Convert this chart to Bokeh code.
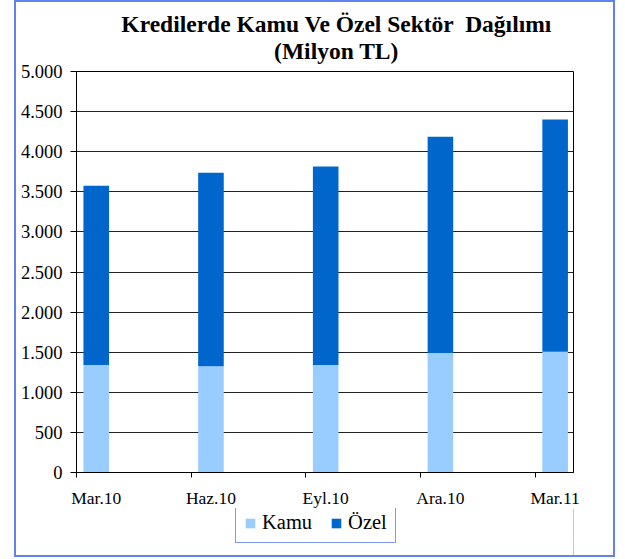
from bokeh.plotting import figure
from bokeh.layouts import column, row
from bokeh.models import (FixedTicker, LinearAxis, Range1d, Legend, LegendItem,
                          Title, ColumnDataSource, Spacer)
from bokeh.embed import file_html
from bokeh.resources import INLINE

categories = ["Mar.10", "Haz.10", "Eyl.10", "Ara.10", "Mar.11"]
kamu = [1340, 1325, 1340, 1490, 1505]
ozel = [2235, 2412, 2477, 2697, 2895]
y_ticks = [0, 500, 1000, 1500, 2000, 2500, 3000, 3500, 4000, 4500, 5000]
y_tick_labels = ["0", "500", "1.000", "1.500", "2.000", "2.500", "3.000",
                 "3.500", "4.000", "4.500", "5.000"]
title_lines = ["Kredilerde Kamu Ve Özel Sektör \u00a0Dağılımı", "(Milyon TL)"]
series_names = ["Kamu", "Özel"]

KAMU_C = "#99CCFF"
OZEL_C = "#0066CC"
BORDER = "2px solid #6282F2"
FONT = "Liberation Serif"
OFF = 0.172

xs = list(range(len(categories)))
src = ColumnDataSource(dict(x=xs, Kamu=kamu, Ozel=ozel))

p = figure(width=601, height=508, output_backend="svg", toolbar_location=None,
           x_range=Range1d(-OFF, len(categories) - 1 + 0.16),
           y_range=Range1d(0, 5000),
           min_border_left=60, min_border_right=44, min_border_top=10,
           min_border_bottom=36,
           styles={"border": BORDER, "border-bottom": "none"})

# centre line 2 under line 1 (block is left-aligned internally)
p.title = Title(text="\u00a0" * 4 + title_lines[0] + "\n" + "\u00a0" * 30 + title_lines[1],
                text_font=FONT, text_font_size="23.5px", text_font_style="bold",
                align="center", text_line_height=1.04, standoff=14,
                text_color="black")

rs = p.vbar_stack(["Kamu", "Ozel"], x="x", width=0.223, source=src,
                  color=[KAMU_C, OZEL_C], line_color=None)

p.outline_line_color = "black"
p.xgrid.grid_line_color = None
p.ygrid.grid_line_color = "#222222"
p.ygrid.ticker = FixedTicker(ticks=y_ticks)

# y axis
ya = p.yaxis[0]
ya.ticker = FixedTicker(ticks=y_ticks)
ya.major_label_overrides = {t: l for t, l in zip(y_ticks, y_tick_labels)}
ya.major_label_text_font = FONT
ya.major_label_text_font_size = "18.5px"
ya.major_label_text_color = "black"
ya.major_tick_out = 6
ya.major_tick_in = 0
ya.minor_tick_line_color = None
ya.axis_line_color = "black"
ya.major_tick_line_color = "black"
ya.major_label_standoff = 8

# x axis: ticks at category boundaries, no labels
xa = p.xaxis[0]
xa.ticker = FixedTicker(ticks=[i - OFF for i in xs])
xa.major_label_text_font_size = "1px"
xa.major_label_text_alpha = 0
xa.major_label_standoff = 0
xa.major_tick_out = 5
xa.major_tick_in = 0
xa.minor_tick_line_color = None
xa.axis_line_color = "black"
xa.major_tick_line_color = "black"

# x labels axis
xl = LinearAxis(ticker=FixedTicker(ticks=xs),
                major_label_overrides={i: c for i, c in zip(xs, categories)},
                major_label_text_font=FONT, major_label_text_font_size="17.5px",
                major_label_text_color="black", axis_line_color=None,
                major_tick_line_color=None, minor_tick_line_color=None,
                major_tick_out=0, major_tick_in=0,
                major_label_standoff=10)
p.add_layout(xl, "below")

# legend strip
q = figure(width=601, height=49, output_backend="svg", toolbar_location=None,
           x_range=Range1d(0, 1), y_range=Range1d(0, 1),
           min_border_left=0, min_border_right=0, min_border_top=0,
           min_border_bottom=0,
           styles={"border": BORDER, "border-top": "none"})
q.axis.visible = False
q.grid.visible = False
q.outline_line_color = None
# swatch renderers, kept outside the visible range
g1 = q.vbar(x=[5], top=[1], width=0.1, color=KAMU_C, line_color=None)
g2 = q.vbar(x=[5], top=[1], width=0.1, color=OZEL_C, line_color=None)

legend = Legend(items=[LegendItem(label=series_names[0], renderers=[g1]),
                       LegendItem(label=series_names[1], renderers=[g2])],
                orientation="horizontal", location=(159, 14),
                label_text_font=FONT, label_text_font_size="20.5px",
                label_text_color="black",
                glyph_width=12, glyph_height=12, label_standoff=6, spacing=18,
                padding=8, margin=0, border_line_color="#7F9AF5",
                border_line_alpha=1, border_line_width=1.5,
                background_fill_alpha=1)
q.add_layout(legend, "center")

layout = row(Spacer(width=14), column(p, q, spacing=0), spacing=0)
open("out.html", "w").write(file_html(layout, INLINE))
